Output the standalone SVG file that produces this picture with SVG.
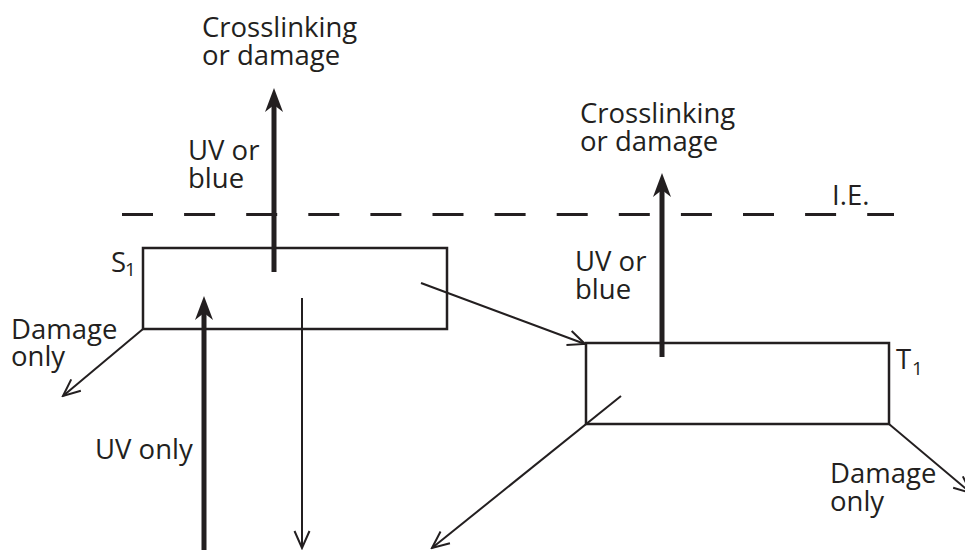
<svg xmlns="http://www.w3.org/2000/svg" width="965" height="550" viewBox="0 0 965 550">
<style>
text{font-family:"Open Sans","Liberation Sans",sans-serif;font-size:27.5px;fill:#231f20}
.sub{font-size:19px}
.box{fill:none;stroke:#231f20;stroke-width:2.5}
.thin{fill:none;stroke:#231f20;stroke-width:2;marker-end:url(#open)}
.thick{fill:none;stroke:#231f20;stroke-width:5;marker-end:url(#solid)}
.dash{fill:none;stroke:#231f20;stroke-width:2.8;stroke-dasharray:31 31.1}
</style>
<defs>
<marker id="open" viewBox="-20 -10 22 20" refX="0" refY="0" markerWidth="22" markerHeight="20" markerUnits="userSpaceOnUse" orient="auto">
<path d="M-17,-7.5 L0,0 L-17,7.5" fill="none" stroke="#231f20" stroke-width="2"/>
</marker>
<marker id="solid" viewBox="-26 -11 28 22" refX="-16" refY="0" markerWidth="28" markerHeight="22" markerUnits="userSpaceOnUse" orient="auto">
<path d="M0,0 L-24,-9 L-17,0 L-24,9 Z" fill="#231f20"/>
</marker>
</defs>

<line class="dash" x1="122" y1="214.5" x2="894" y2="214.5"/>
<text x="832" y="205">I.E.</text>

<g id="S1">
<rect class="box" x="143" y="248" width="304" height="81"/>
<text x="111" y="272">S<tspan class="sub" x="125" y="276">1</tspan></text>
</g>

<g id="T1">
<rect class="box" x="586" y="343" width="303" height="81"/>
<text x="896" y="369">T<tspan class="sub" x="912" y="375">1</tspan></text>
</g>

<g id="labels">
<text x="202" y="37">Crosslinking</text>
<text x="202" y="65">or damage</text>
<text x="188" y="160">UV or</text>
<text x="188" y="188">blue</text>
<text x="580" y="123">Crosslinking</text>
<text x="580" y="151">or damage</text>
<text x="575" y="271">UV or</text>
<text x="575" y="299">blue</text>
<text x="11" y="339">Damage</text>
<text x="11" y="366">only</text>
<text x="95" y="459">UV only</text>
<text x="830" y="483">Damage</text>
<text x="830" y="511">only</text>
</g>

<g id="connectors">
<line class="thick" x1="274" y1="272" x2="274" y2="104"/>
<line class="thick" x1="662" y1="357" x2="662" y2="189"/>
<line class="thick" x1="204" y1="560" x2="204" y2="312"/>
<line class="thin" x1="302" y1="298" x2="302" y2="548"/>
<line class="thin" x1="421" y1="283" x2="585" y2="344"/>
<line class="thin" x1="143" y1="329" x2="63" y2="396"/>
<line class="thin" x1="621" y1="396" x2="432" y2="548"/>
<line class="thin" x1="889" y1="424" x2="971" y2="493"/>
</g>
</svg>
